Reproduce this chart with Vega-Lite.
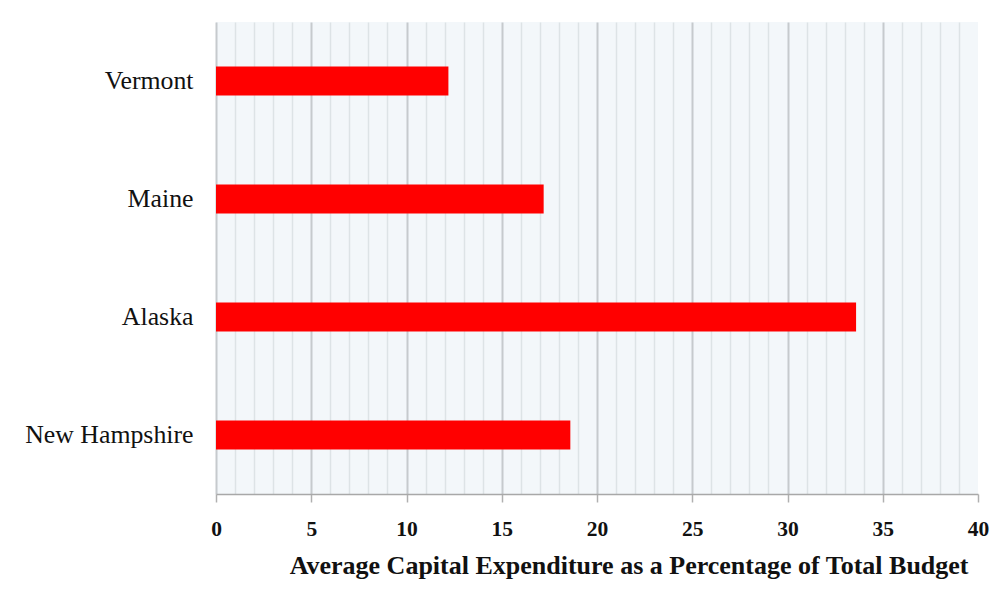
{
  "$schema": "https://vega.github.io/schema/vega-lite/v6.json",
  "width": 762,
  "height": 472,
  "autosize": "none",
  "padding": {"left": 216, "top": 22, "right": 19, "bottom": 107},
  "background": "#ffffff",
  "config": {
    "view": {"fill": "#f3f7fa", "stroke": null}
  },
  "data": {
    "values": [
      {"state": "Vermont", "pct": 12.2},
      {"state": "Maine", "pct": 17.2},
      {"state": "Alaska", "pct": 33.6},
      {"state": "New Hampshire", "pct": 18.6}
    ]
  },
  "mark": {"type": "bar", "color": "#ff0000"},
  "encoding": {
    "y": {
      "field": "state",
      "type": "nominal",
      "sort": null,
      "scale": {"paddingInner": 0.754, "paddingOuter": 0.377},
      "axis": {
        "title": null,
        "domain": false,
        "ticks": false,
        "grid": false,
        "labelFont": "Liberation Serif",
        "labelFontSize": 25.8,
        "labelColor": "#111111",
        "labelPadding": 23
      }
    },
    "x": {
      "field": "pct",
      "type": "quantitative",
      "scale": {"domain": [0, 40], "nice": false},
      "axis": {
        "values": [0,1,2,3,4,5,6,7,8,9,10,11,12,13,14,15,16,17,18,19,20,21,22,23,24,25,26,27,28,29,30,31,32,33,34,35,36,37,38,39,40],
        "labelExpr": "datum.value % 5 === 0 ? datum.label : ''",
        "grid": true,
        "gridColor": {"condition": {"test": "datum.value % 5 === 0", "value": "#c6cacd"}, "value": "#dde3e6"},
        "gridWidth": {"condition": {"test": "datum.value % 5 === 0", "value": 2}, "value": 1.5},
        "gridOpacity": {"condition": {"test": "datum.value === 40", "value": 0}, "value": 1},
        "ticks": true,
        "tickColor": {"condition": {"test": "datum.value % 5 === 0", "value": "#b0b0b0"}, "value": "transparent"},
        "tickSize": 8,
        "tickWidth": 1.5,
        "domain": true,
        "domainColor": "#a8a8a8",
        "domainWidth": 1.5,
        "labelFont": "Liberation Serif",
        "labelFontWeight": "bold",
        "labelFontSize": 21.5,
        "labelColor": "#111111",
        "labelPadding": 16,
        "labelFlush": false,
        "labelOverlap": false,
        "title": "Average Capital  Expenditure  as a Percentage of Total Budget",
        "titleFont": "Liberation Serif",
        "titleFontWeight": "bold",
        "titleFontSize": 26,
        "titleColor": "#111111",
        "titleAlign": "right",
        "titleAnchor": "end",
        "titleX": 752,
        "titleY": 58
      }
    }
  }
}
